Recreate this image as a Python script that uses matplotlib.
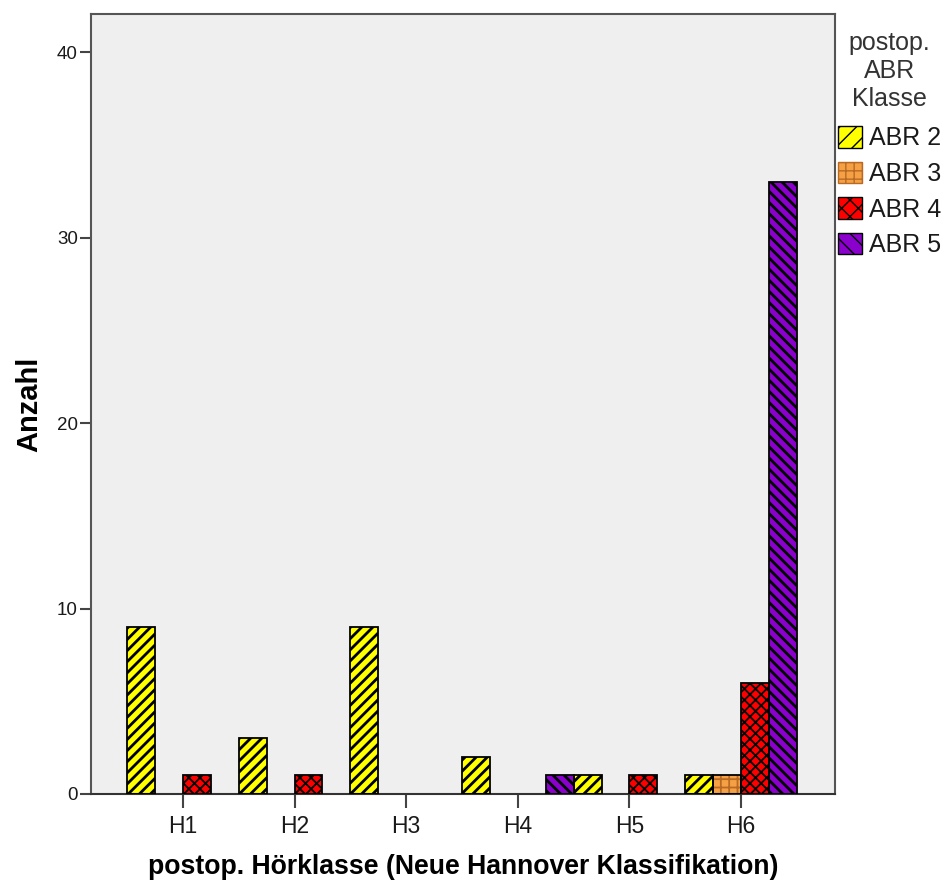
import numpy as np
import matplotlib
matplotlib.use("Agg")
import matplotlib.pyplot as plt
from matplotlib.patches import Patch

plt.rcParams['font.family'] = ['Liberation Sans', 'DejaVu Sans']

categories = ['H1', 'H2', 'H3', 'H4', 'H5', 'H6']
series_names = ['ABR 2', 'ABR 3', 'ABR 4', 'ABR 5']
abr2 = [9, 3, 9, 2, 1, 1]
abr3 = [0, 0, 0, 0, 0, 1]
abr4 = [1, 1, 0, 0, 1, 6]
abr5 = [0, 0, 0, 1, 0, 33]
series_values = [abr2, abr3, abr4, abr5]
yticks = [0, 10, 20, 30, 40]

face_colors = ['#FFFF00', '#F5A044', '#FF0000', '#8A00CC']
hatch_colors = ['black', '#B86A24', 'black', 'black']
hatches = ['///', '++', 'xxx', '\\\\\\']
legend_hatches = ['//', '++', 'xx', '\\\\']
hatch_lw = [2.0, 1.3, 1.3, 2.0]

fig = plt.figure(figsize=(9.48, 8.85), dpi=100)
ax = fig.add_axes([91/948, 1-794/885, (835-91)/948, (794-14)/885])
ax.set_facecolor('#EFEFEF')

x = np.arange(len(categories))
width = 0.25
offsets = [-1.5, -0.5, 0.5, 1.5]

for k, vals in enumerate(series_values):
    vals = np.array(vals, dtype=float)
    mask = vals > 0
    xs = x[mask] + offsets[k] * width
    with plt.rc_context({'hatch.linewidth': hatch_lw[k]}):
        ax.bar(xs, vals[mask], width=width, color=face_colors[k],
               hatch=hatches[k], edgecolor=hatch_colors[k], linewidth=0, zorder=2)
    ax.bar(xs, vals[mask], width=width, facecolor='none',
           edgecolor='black', linewidth=1.3, zorder=3)

ax.set_xlim(-0.824, 5.842)
ax.set_ylim(0, 42.05)
ax.set_xticks(x)
ax.set_xticklabels(categories, fontsize=16.5, color='#1a1a1a')
ax.set_yticks(yticks)
ax.set_yticklabels([str(v) for v in yticks], fontsize=13.5, color='#1a1a1a')
ax.tick_params(axis='x', length=10, width=1.5, color='#444444', pad=5)
ax.tick_params(axis='y', length=8, width=1.5, color='#444444', pad=1.5)
for s in ax.spines.values():
    s.set_color('#555555')
    s.set_linewidth(1.5)
ax.spines['bottom'].set_color('#333333')

ax.set_xlabel('postop. Hörklasse (Neue Hannover Klassifikation)', fontsize=19.2,
              fontweight='bold', labelpad=12)
ax.set_ylabel('Anzahl', fontsize=21, fontweight='bold', labelpad=10)

handles = []
with plt.rc_context({'hatch.linewidth': 1.8}):
    for k in range(4):
        handles.append(Patch(facecolor=face_colors[k], hatch=legend_hatches[k],
                             edgecolor=hatch_colors[k], linewidth=1.0))
leg = fig.legend(handles, series_names, loc='upper left',
                 bbox_to_anchor=(838/948, 1-31/885), frameon=False,
                 fontsize=18, title='postop.\nABR\nKlasse', title_fontsize=18,
                 handlelength=0.95, handleheight=0.95, handletextpad=0.3,
                 labelspacing=0.45, borderpad=0, borderaxespad=0)
leg.get_title().set_multialignment('center')
leg.get_title().set_linespacing(1.22)
leg.get_title().set_color('#333333')
leg._legend_box.sep = 10.5
for t in leg.get_texts():
    t.set_color('#1a1a1a')

fig.savefig('out.png', dpi=100)
